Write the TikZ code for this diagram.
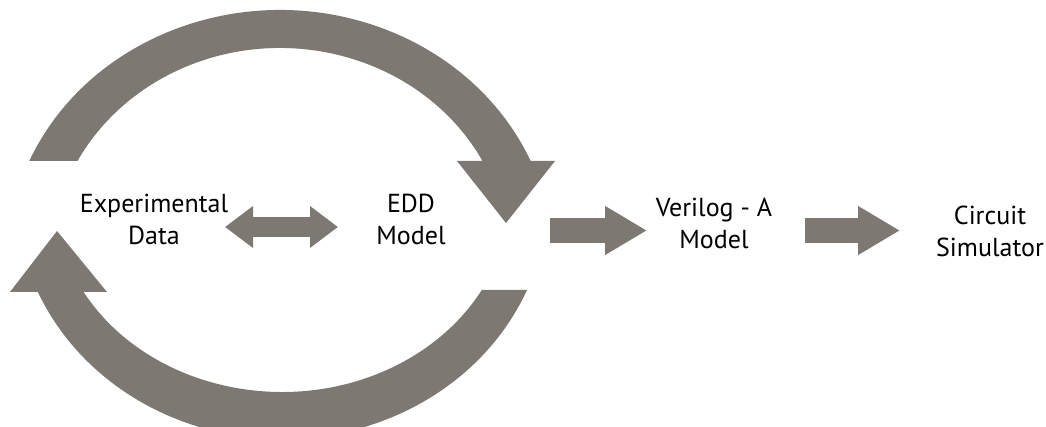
\documentclass[tikz,border=0pt]{standalone}
\usepackage{fontspec}
\setmainfont{PT Sans}
\usepackage{tikz}
\usetikzlibrary{arrows.meta}

\definecolor{loopgray}{RGB}{125,121,114}

\begin{document}
\begin{tikzpicture}[
  x=1pt, y=-1pt,
  lbl/.style={align=center, inner sep=0pt, font=\fontsize{26}{32}\selectfont},
  fat/.style={-{Triangle[length=42pt, width=46pt]}, line width=25pt, color=loopgray},
  twoway/.style={{Triangle[length=28pt, width=40pt]}-{Triangle[length=28pt, width=40pt]}, line width=20pt, color=loopgray},
  loop/.style={fill=loopgray, draw=none},
]
\clip (0,0) rectangle (1046,427);

% --- labels ---
\node[lbl] (exp) at (154,219) {Experimental\\Data};
\node[lbl] (edd) at (411,219) {EDD\\Model};
\node[lbl] (vam) at (714,223) {Verilog - A\\Model};
\node[lbl] (sim) at (990,231) {Circuit\\Simulator};

% --- ends of the straight block arrows ---
\coordinate (exp r) at (225,227);
\coordinate (edd l) at (338,227);
\coordinate (edd r) at (550,230.5);
\coordinate (vam l) at (647,230.5);
\coordinate (vam r) at (805,230.5);
\coordinate (sim l) at (900,230.5);

\draw[twoway] (exp r) -- (edd l);
\draw[fat] (edd r) -- (vam l);
\draw[fat] (vam r) -- (sim l);

% --- upper loop: data -> model ---
\fill[loop] (29.3,161) arc[start angle=203.33, end angle=336.67, x radius=273, y radius=250]
  -- (555,161) -- (506,223) -- (457,161) -- (482.5,161)
  arc[start angle=332.16, end angle=207.84, x radius=229, y radius=212] -- cycle;

% --- lower loop: model -> data ---
\fill[loop] (527,290) arc[start angle=22.9, end angle=156.6, x radius=266, y radius=244]
  -- (10,292) -- (57,231) -- (107,292) -- (83.6,292)
  arc[start angle=150.5, end angle=28.8, x radius=228, y radius=197] -- cycle;

\end{tikzpicture}
\end{document}
